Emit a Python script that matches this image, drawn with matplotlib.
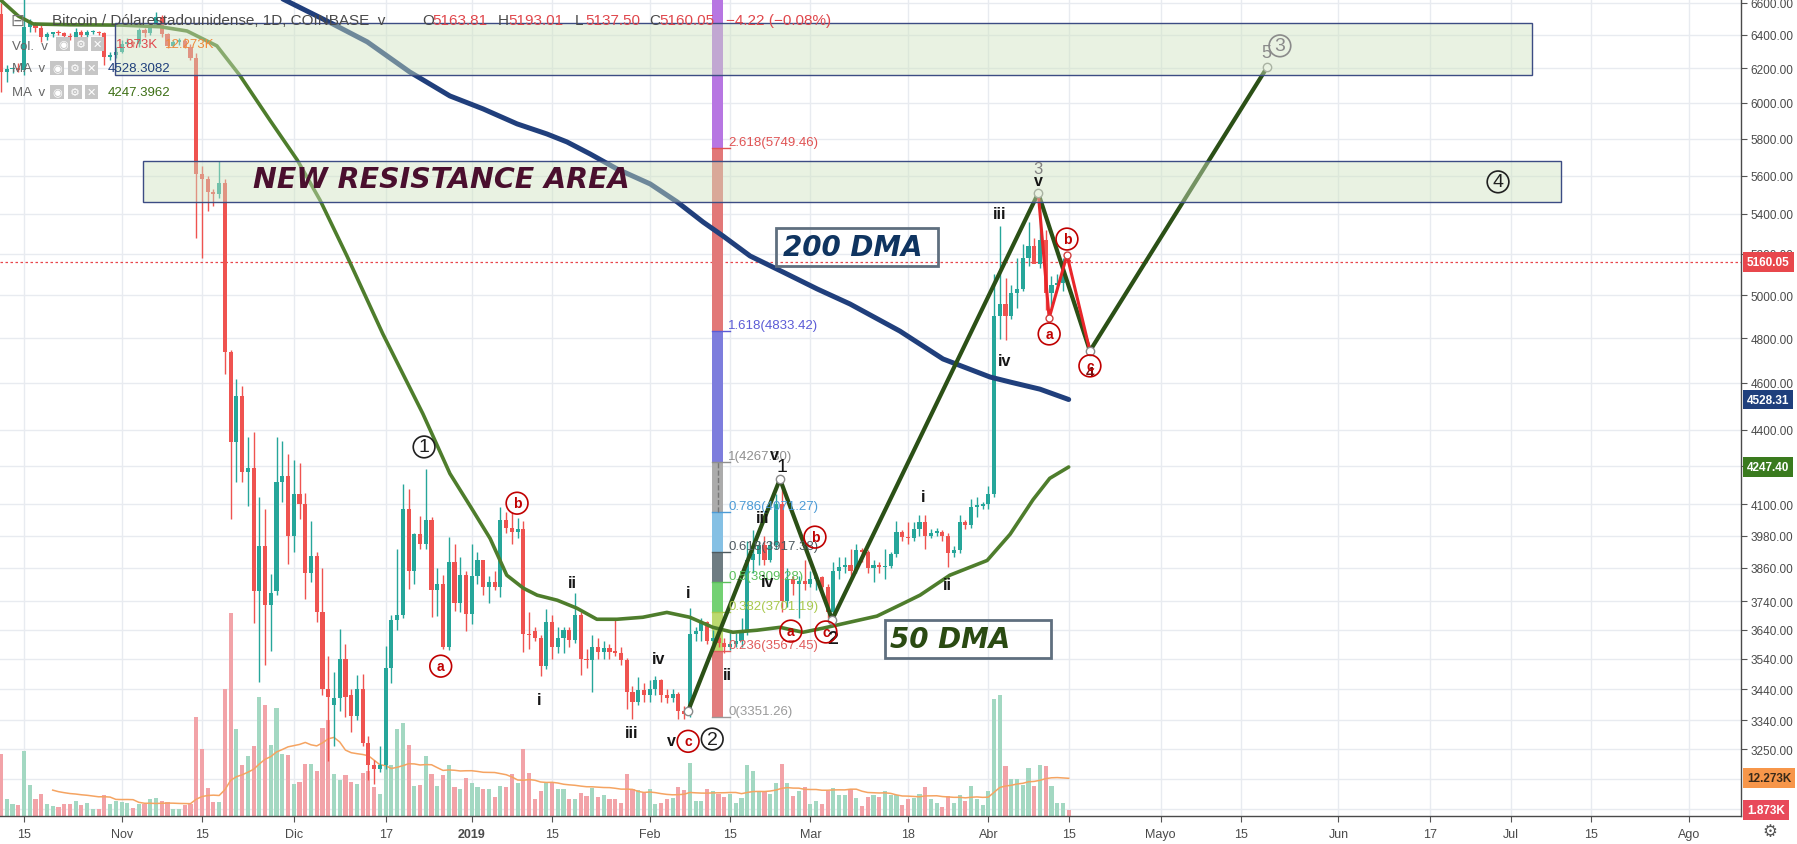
import numpy as np
import pandas as pd
import matplotlib
matplotlib.use('Agg')
import matplotlib.pyplot as plt
import matplotlib.transforms as mtransforms
from matplotlib.patches import Rectangle
from matplotlib.ticker import NullLocator
from matplotlib.colors import to_rgba

plt.rcParams['font.family'] = ['Liberation Sans', 'DejaVu Sans']

# ---- datos: velas diarias BTC/USD (Coinbase) 11 oct 2018 - 15 abr 2019 ----
fechas = pd.date_range('2018-10-11', '2019-04-15', freq='D')

opens = [6530, 6180, 6195, 6205, 6190, 6450, 6470, 6440, 6390, 6405, 6415, 6410, 6395, 6385, 6420, 6400, 6415, 6420, 6410, 6270, 6280,
         6300, 6345, 6360, 6345, 6430, 6412, 6455, 6510, 6405, 6335, 6360, 6365, 6330, 6260, 5610, 5580, 5514, 5505, 5560, 4737,
         4349, 4544, 4226, 4245, 3776, 3940, 3725, 3776, 4186, 4210,
         3980, 4140, 4100, 3840, 3905, 3700, 3440, 3390, 3410, 3540, 3420, 3355, 3440, 3270, 3200, 3190, 3200, 3510, 3675, 3690,
         4080, 3850, 3985, 3950, 4040, 3780, 3800, 3580, 3880, 3733, 3833,
         3694, 3830, 3887, 3790, 3810, 3790, 4038, 4008, 3993, 4005, 3625, 3635, 3610, 3516, 3667, 3580, 3610, 3640, 3605, 3690,
         3540, 3535, 3580, 3565, 3578, 3562, 3560, 3535, 3432, 3398, 3437,
         3420, 3440, 3470, 3420, 3410, 3425, 3370, 3360, 3625, 3635, 3665, 3600, 3610, 3595, 3580, 3590, 3600, 3635, 3887, 3910,
         3945, 3890, 3945, 4100, 3740, 3820, 3800, 3812,
         3800, 3820, 3825, 3790, 3700, 3850, 3862, 3870, 3850, 3925, 3918, 3860, 3872, 3862, 3868, 3910, 3995, 3975, 3970, 4005,
         4030, 3980, 3990, 3995, 3980, 3915, 3925, 4030, 4020, 4090, 4095,
         4100, 4140, 4900, 4960, 4900, 5010, 5030, 5180, 5240, 5150, 5270, 5010, 5050, 5060, 5163.81]
highs = [6600, 6220, 6210, 6230, 6700, 6500, 6480, 6460, 6420, 6420, 6430, 6420, 6410, 6440, 6430, 6430, 6430, 6425, 6420, 6300, 6330,
         6370, 6380, 6365, 6440, 6440, 6470, 6540, 6520, 6410, 6370, 6380, 6380, 6345, 6290, 5650, 5600, 5530, 5680, 5580, 4745,
         4617, 4587, 4370, 4390, 4128, 4081, 3837, 4370, 4352, 4301,
         4275, 4262, 4145, 4035, 3920, 3860, 3550, 3497, 3641, 3590, 3440, 3488, 3490, 3290, 3215, 3260, 3584, 3690, 3930, 4180,
         4158, 3990, 4054, 4240, 4050, 3860, 3835, 3974, 3947, 3900, 3850,
         3947, 3918, 3890, 3830, 3850, 4089, 4070, 4070, 4046, 4035, 3701, 3650, 3620, 3712, 3690, 3650, 3650, 3650, 3768, 3700,
         3575, 3623, 3610, 3600, 3590, 3676, 3580, 3545, 3450, 3480, 3460,
         3470, 3483, 3475, 3440, 3440, 3430, 3385, 3715, 3650, 3680, 3670, 3640, 3640, 3610, 3640, 3630, 3680, 3959, 4000, 3960,
         3980, 3960, 4140, 4199, 3860, 3830, 3830, 3890,
         3850, 3840, 3830, 3800, 3880, 3900, 3900, 3930, 3950, 3935, 3925, 3890, 3880, 3930, 3920, 4035, 4000, 4030, 4030, 4060,
         4060, 4005, 4010, 4000, 3990, 3940, 4060, 4040, 4120, 4130, 4110,
         4170, 5100, 5340, 5080, 5050, 5180, 5250, 5359, 5280, 5508, 5320, 5090, 5100, 5180, 5193.01]
lows = [6060, 6120, 6175, 6180, 6160, 6420, 6420, 6360, 6370, 6390, 6400, 6380, 6370, 6380, 6390, 6390, 6405, 6400, 6220, 6250, 6260,
        6290, 6340, 6330, 6330, 6390, 6400, 6450, 6390, 6320, 6330, 6340, 6320, 6250, 5280, 5180, 5415, 5440, 5480, 4640, 4044,
        4189, 4189, 4093, 3663, 3464, 3520, 3567, 3760, 4110, 3874,
        3918, 4043, 3748, 3810, 3667, 3420, 3213, 3260, 3370, 3350, 3302, 3340, 3260, 3155, 3145, 3180, 3190, 3460, 3640, 3680,
        3782, 3800, 3930, 3930, 3684, 3687, 3573, 3570, 3705, 3700, 3635,
        3660, 3800, 3760, 3734, 3780, 3755, 3990, 3947, 3970, 3564, 3573, 3600, 3483, 3505, 3540, 3560, 3560, 3580, 3595, 3485,
        3510, 3430, 3540, 3540, 3540, 3550, 3520, 3375, 3344, 3390, 3400,
        3400, 3420, 3400, 3395, 3400, 3345, 3345, 3350, 3600, 3600, 3590, 3570, 3580, 3560, 3570, 3580, 3580, 3620, 3840, 3870,
        3870, 3880, 3930, 3700, 3720, 3760, 3680, 3780,
        3790, 3780, 3770, 3680, 3690, 3820, 3840, 3820, 3840, 3880, 3840, 3810, 3840, 3820, 3860, 3900, 3960, 3950, 3960, 3980,
        3930, 3970, 3980, 3960, 3863, 3900, 3915, 4005, 4010, 4050, 4080,
        4080, 4130, 4796, 4790, 4890, 4940, 5020, 5140, 5160, 5130, 4930, 4940, 5030, 5020, 5137.50]
closes = [6180, 6195, 6205, 6190, 6450, 6470, 6440, 6390, 6405, 6415, 6410, 6395, 6385, 6420, 6400, 6415, 6420, 6410, 6270, 6280, 6300,
          6345, 6360, 6345, 6430, 6412, 6455, 6510, 6405, 6335, 6360, 6365, 6330, 6260, 5610, 5580, 5514, 5505, 5560, 4737, 4349,
          4544, 4226, 4245, 3776, 3940, 3725, 3770, 4186, 4210, 3980,
          4140, 4100, 3840, 3905, 3700, 3440, 3415, 3410, 3540, 3415, 3355, 3440, 3270, 3200, 3190, 3200, 3510, 3675, 3690, 4080,
          3850, 3985, 3950, 4040, 3780, 3800, 3580, 3880, 3733, 3833, 3694,
          3830, 3887, 3790, 3810, 3790, 4038, 4008, 3993, 4005, 3625, 3620, 3610, 3516, 3667, 3580, 3610, 3640, 3605, 3690, 3540,
          3535, 3580, 3565, 3578, 3562, 3560, 3535, 3432, 3398, 3437, 3420,
          3440, 3470, 3420, 3410, 3425, 3370, 3360, 3625, 3635, 3665, 3600, 3610, 3595, 3580, 3590, 3600, 3635, 3887, 3910, 3945,
          3890, 3945, 4100, 3740, 3820, 3800, 3812, 3800,
          3820, 3825, 3790, 3700, 3850, 3862, 3870, 3850, 3925, 3918, 3860, 3872, 3862, 3868, 3910, 3995, 3975, 3970, 4005, 4030,
          3980, 3990, 3995, 3980, 3915, 3925, 4030, 4020, 4090, 4095, 4100,
          4140, 4900, 4960, 4900, 5010, 5030, 5180, 5240, 5150, 5270, 5010, 5050, 5060, 5163, 5160.05]
volumen = [20, 5.5, 3.9, 3.5, 21, 10, 5.5, 7, 3.9, 3.2, 2.9, 3.9, 3.9, 5, 3.5, 4.2, 2.3, 2.3, 6.7, 3.9, 5.0,
           4.5, 4.2, 2.5, 3.9, 3.9, 5.5, 5.7, 5, 4.5, 2.3, 2.3, 3.5, 3.9, 32, 21.6, 9, 4.6, 4.5, 41, 65.5,
           28, 16.5, 19.3, 22.6, 38.4, 35.8, 23, 35, 20, 19.7,
           10.3, 11, 16.8, 16.8, 14.5, 28.4, 31, 13.5, 11.6, 13.2, 11, 10.3, 13.9, 14.5, 9.4, 7.1, 16.8, 16.5, 28, 30,
           23, 9.7, 10, 19.3, 13.5, 9.7, 13.2, 16.5, 9.5, 8.6, 12.4,
           10.5, 9.5, 8.8, 8.8, 6.2, 9.7, 9.5, 13.4, 10.5, 21.5, 14, 5.6, 8, 10.7, 10.5, 8.6, 8.6, 5.6, 5.6, 7.3,
           6.4, 9.1, 6.2, 6.7, 5.6, 5.4, 4.1, 13.4, 8.8, 8.4, 7.3,
           8.6, 3.8, 4.3, 5.6, 5.9, 9.5, 8.4, 17.2, 4.8, 4.8, 8.6, 8, 7, 6.2, 7, 4.1, 5.9, 16.3, 14.5, 8,
           8, 7, 10.5, 16.7, 10.7, 6.4, 8, 9.5,
           3.8, 4.8, 3.8, 8, 9.1, 6.7, 6.7, 8.6, 5.9, 3.2, 6.2, 6.7, 6.2, 8, 6.9, 6.9, 3.7, 5.6, 5.9, 7.2,
           9.4, 5.4, 4.3, 2.9, 6.5, 4.3, 6.9, 5, 9.7, 5.4, 3.4,
           8, 37.8, 38.9, 16.1, 11.8, 12, 10.1, 15.6, 9.7, 16.6, 16.1, 9.7, 4.3, 4.3, 1.873]

# medias moviles (dias desde 15 oct 2018)
ma200_dias = [44, 45.1, 53.8, 59.8, 67.2, 74.2, 80, 85.9, 91.1, 94.6, 98.6, 103.3, 109.1, 113.8, 118.3, 121.8,
              126.5, 132.2, 138.2, 143.9, 152.6, 160.1, 168.3, 171.8, 177, 182]
ma200 = [6680, 6622, 6467, 6358, 6179, 6040, 5966, 5882, 5826, 5782, 5717, 5636, 5556, 5462, 5359, 5288,
         5189, 5111, 5029, 4958, 4832, 4706, 4626, 4604, 4573, 4528.31]
ma50_dias = [-4.2, -1, 1.6, 8, 17, 23.7, 28.4, 33.6, 37.6, 42.9, 47.6, 51.6, 56.3, 62.5, 69.5, 74.2, 77.7, 81.2, 84.1,
             87, 89.4, 92.9, 96.3, 99.8, 103.3, 107.8, 112, 116, 120, 123.5, 127.7, 131.7, 135.7, 139.2, 143.9, 148.6,
             152.6, 156.1, 161.3, 164.8, 167.8, 171.8, 175.8, 178.7, 182]
ma50 = [6620, 6516, 6467, 6462, 6460, 6450, 6424, 6334, 6159, 5900, 5684, 5470, 5187, 4820, 4467, 4221, 4094, 3969, 3833,
        3786, 3761, 3743, 3715, 3676, 3676, 3683, 3700, 3683, 3648, 3631, 3638, 3648, 3631, 3645, 3666, 3687,
        3726, 3761, 3833, 3862, 3887, 3985, 4118, 4202, 4247.40]

# fibonacci
fib_ratios = [0, 0.236, 0.382, 0.5, 0.618, 0.786, 1, 1.618, 2.618, 3.618]
fib_precios = [3351.26, 3567.45, 3701.19, 3809.28, 3917.38, 4071.27, 4267.30, 4833.42, 5749.46, 6665.5]

# ondas de elliott
onda_dias = [115.7, 131.7, 140.8, 176.7, 185.7, 216.6]
onda_precios = [3370, 4199, 3675, 5508, 4742, 6208]
abc_dias = [176.7, 178.6, 181.7, 185.7]
abc_precios = [5508, 4892, 5194, 4742]

precio_ticks = [6600, 6400, 6200, 6000, 5800, 5600, 5400, 5200, 5000, 4800, 4600, 4400, 4250, 4100,
                3980, 3860, 3740, 3640, 3540, 3440, 3340, 3250]
fecha_ticks = ['2018-10-15', '2018-11-01', '2018-11-15', '2018-12-01', '2018-12-17', '2019-01-01', '2019-01-15',
               '2019-02-01', '2019-02-15', '2019-03-01', '2019-03-18', '2019-04-01', '2019-04-15', '2019-05-01',
               '2019-05-15', '2019-06-01', '2019-06-17', '2019-07-01', '2019-07-15', '2019-08-01']
fecha_labels = ['15', 'Nov', '15', 'Dic', '17', '2019', '15', 'Feb', '15', 'Mar', '18', 'Abr', '15', 'Mayo',
                '15', 'Jun', '17', 'Jul', '15', 'Ago']

# ---- figura ----
W, H = 1797, 845
base = pd.Timestamp('2018-10-15')
dias = np.array((fechas - base).days, dtype=float)
tick_dias = np.array((pd.to_datetime(fecha_ticks) - base).days, dtype=float)
o, h, l, c = map(np.array, (opens, highs, lows, closes))
vol = np.array(volumen)

fig = plt.figure(figsize=(W / 100, H / 100), dpi=100)
fig.patch.set_facecolor('white')
rect = [0, 28 / H, 1741 / W, 817 / H]
axg = fig.add_axes(rect)
axv = fig.add_axes(rect, sharex=axg)
ax = fig.add_axes(rect, sharex=axg)
axg.set_zorder(0)
axv.set_zorder(1)
ax.set_zorder(2)
axv.patch.set_visible(False)
ax.patch.set_visible(False)

px_dia = 5.74
xmin, xmax = -24 / px_dia, (1741 - 24) / px_dia
ymin, ymax = 3050, 6622
for a in (axg, ax):
    a.set_yscale('log')
    a.set_ylim(ymin, ymax)
ax.set_xlim(xmin, xmax)

# cuadricula
for t in precio_ticks + [3160, 3070]:
    axg.axhline(t, color='#e8ebf0', lw=1)
for t in tick_dias:
    axg.axvline(t, color='#e8ebf0', lw=1)
for a in (axg, axv):
    a.tick_params(left=False, bottom=False, labelleft=False, labelbottom=False, right=False, labelright=False)
    for s in a.spines.values():
        s.set_visible(False)
axg.yaxis.set_minor_locator(NullLocator())

# volumen
sube = c >= o
vcols = np.where(sube, '#a3d8c2', '#f2a3a8')
axv.bar(dias, vol, width=0.72, color=vcols, linewidth=0)
vol_ma = pd.Series(vol).rolling(20, min_periods=10).mean()
axv.plot(dias, vol_ma, color='#f5a462', lw=1.1)
axv.set_ylim(0, 817 / 3.1)

# velas
cols = np.where(sube, '#26a69a', '#ef5350')
ax.vlines(dias, l, h, colors=cols, lw=1, zorder=3)
cuerpo_bajo = np.minimum(o, c)
cuerpo_alto = np.maximum(np.abs(c - o), c * 0.0015)
ax.bar(dias, cuerpo_alto, bottom=cuerpo_bajo, width=0.72, color=cols, linewidth=0, zorder=3.5)

# medias
ax.plot(ma200_dias, ma200, color='#203f7c', lw=3.6, zorder=4, solid_capstyle='round')
ax.plot(ma50_dias, ma50, color='#4e7d2c', lw=2.6, zorder=4, solid_capstyle='round')

# linea del ultimo precio
ax.axhline(closes[-1], color='#e8474c', lw=0.9, ls=(0, (2, 2)), zorder=2)

# columna fibonacci
fx0, fx1 = (712 - 24) / px_dia, (723 - 24) / px_dia
banda_cols = ['#e27d7d', '#bcd96f', '#73d173', '#6e7c82', '#85c0e4', '#ababab', '#7d7ddd', '#e27878', '#b776e2']
fib_txt_cols = ['#9a9a9a', '#e05c5c', '#a9c94e', '#5cbf5c', '#4e5a60', '#4c9bd6', '#8f8f8f', '#5b5bd6', '#e05252']
for i in range(len(fib_precios) - 1):
    ax.fill_between([fx0, fx1], fib_precios[i], fib_precios[i + 1], color=banda_cols[i], lw=0, zorder=2.6)
for i in range(len(fib_precios) - 1):
    ax.text((728 - 24) / px_dia, fib_precios[i], '%g(%.2f)' % (fib_ratios[i], fib_precios[i]),
            color=fib_txt_cols[i], fontsize=9.5, ha='left', va='bottom', zorder=6)
    ax.plot([fx0, fx1 + 1.2], [fib_precios[i]] * 2, color=fib_txt_cols[i], lw=1, zorder=2.7)
ax.vlines((fx0 + fx1) / 2, fib_precios[5], fib_precios[6], colors='#777777', linestyles='--', lw=1, zorder=2.8)

# ondas
ax.plot(onda_dias, onda_precios, color='#2b5016', lw=3, zorder=5, solid_capstyle='round')
ax.plot(abc_dias, abc_precios, color='#e8262a', lw=2.2, zorder=5.2)
ax.plot(onda_dias, onda_precios, 'o', ms=6, mfc='white', mec='#8a8a8a', mew=1, zorder=5.5)
ax.plot(abc_dias[1:3], abc_precios[1:3], 'o', ms=5, mfc='white', mec='#d04040', mew=1, zorder=5.5)

# cajas de resistencia
caja_fc = to_rgba('#cfe3c0', 0.45)
ax.add_patch(Rectangle((15.85, 6161), 262.7 - 15.85, 6473 - 6161, fc=caja_fc, ec='#3c4c84', lw=1, zorder=6))
ax.add_patch(Rectangle((20.7, 5462), 267.8 - 20.7, 5678 - 5462, fc=caja_fc, ec='#3c4c84', lw=1, zorder=6))
ax.text(39.9, 5583, 'NEW RESISTANCE AREA', family='DejaVu Sans', fontsize=20.5, fontweight='bold',
        style='italic', color='#4a0f2e', ha='left', va='center', zorder=7)

# cajas DMA
ax.add_patch(Rectangle((131, 5141), 159.2 - 131, 5329 - 5141, fc='none', ec='#5f6f7f', lw=2, zorder=7))
ax.text(132.2, 5233, '200 DMA', family='DejaVu Sans', fontsize=20, fontweight='bold', style='italic',
        color='#0f3460', ha='left', va='center', zorder=7)
ax.add_patch(Rectangle((150, 3543), 178.9 - 150, 3674 - 3543, fc='none', ec='#5f6f7f', lw=2, zorder=7))
ax.text(150.9, 3608, '50 DMA', family='DejaVu Sans', fontsize=20, fontweight='bold', style='italic',
        color='#2a4a12', ha='left', va='center', zorder=7)

# etiquetas de onda
romanos = [('i', 89.7, 3408), ('ii', 95.6, 3808), ('iii', 105.9, 3302), ('iv', 110.6, 3543), ('v', 112.7, 3275),
           ('i', 115.7, 3772), ('ii', 122.6, 3487), ('iii', 128.7, 4047), ('iv', 129.6, 3810), ('v', 130.8, 4300),
           ('i', 156.6, 4132), ('ii', 160.8, 3801), ('iii', 169.9, 5405), ('iv', 170.9, 4697), ('v', 176.7, 5572)]
for s, x, y in romanos:
    ax.text(x, y, s, fontsize=11.5, fontweight='bold', color='#151515', ha='center', va='center', zorder=8)
ax.text(132.1, 4250, '1', fontsize=14, color='#151515', ha='center', va='center', zorder=8)
ax.text(140.9, 3608, '2', fontsize=14, fontweight='bold', color='#151515', ha='center', va='center', zorder=8)
ax.text(176.7, 5640, '3', fontsize=12, color='#808080', ha='center', va='center', zorder=8)
ax.text(185.7, 4650, '4', fontsize=11, fontweight='bold', color='#7a1010', ha='center', va='center', zorder=8)
ax.text(216.5, 6297, '5', fontsize=13, color='#8a8a8a', ha='center', va='center', zorder=8)

rojos = [('a', 72.6, 3516), ('b', 85.9, 4104), ('c', 115.7, 3274), ('a', 133.6, 3635), ('b', 137.8, 3974),
         ('c', 139.7, 3632), ('a', 178.6, 4819), ('b', 181.7, 5273), ('c', 185.7, 4675)]
for s, x, y in rojos:
    ax.text(x, y, s, fontsize=10, fontweight='bold', color='#c00000', ha='center', va='center', zorder=8,
            bbox=dict(boxstyle='circle,pad=0.28', fc='none', ec='#c00000', lw=1.2))

circulos = [('1', 69.7, 4329, '#202020'), ('2', 119.9, 3281, '#202020'), ('3', 218.8, 6334, '#8a8a8a'),
            ('4', 256.8, 5567, '#202020')]
for s, x, y, col in circulos:
    ax.text(x, y, s, fontsize=14, color=col, ha='center', va='center', zorder=8,
            bbox=dict(boxstyle='circle,pad=0.12', fc='none', ec=col, lw=1.2))

# ejes
ax.yaxis.tick_right()
ax.set_yticks(precio_ticks)
ax.set_yticklabels(['%.2f' % t for t in precio_ticks])
ax.yaxis.set_minor_locator(NullLocator())
ax.set_xticks(tick_dias)
ax.set_xticklabels(fecha_labels)
ax.get_xticklabels()[5].set_fontweight('bold')
ax.tick_params(axis='y', direction='out', length=4, color='#555555', labelsize=8.5, labelcolor='#4a4a4a', pad=3)
ax.tick_params(axis='x', direction='out', length=4, color='#555555', labelsize=9, labelcolor='#4a4a4a', pad=5)
for s in ('top', 'left'):
    ax.spines[s].set_visible(False)
for s in ('right', 'bottom'):
    ax.spines[s].set_color('#4a4a4a')
    ax.spines[s].set_linewidth(1)

# etiquetas de precio resaltadas
tp = mtransforms.blended_transform_factory(ax.transAxes, ax.transData)
tv = mtransforms.blended_transform_factory(axv.transAxes, axv.transData)
dx = 1 + 6 / 1741
for val, txt, fc, tc, tr in [(5160.05, '5160.05', '#e8474c', 'white', tp), (4528.31, '4528.31', '#1f3f7c', 'white', tp),
                             (4247.40, '4247.40', '#3a7a1e', 'white', tp), (12.273, '12.273K', '#f7964a', '#3a2a1a', tv),
                             (1.873, '1.873K', '#e84a5a', 'white', tv)]:
    a = ax if tr is tp else axv
    a.text(dx, val, txt, transform=tr, fontsize=8.5, fontweight='bold', color=tc, ha='left', va='center',
           clip_on=False, zorder=20, bbox=dict(boxstyle='square,pad=0.32', fc=fc, ec='none'))


# leyenda superior
def texto(x, y, s, **kw):
    fig.text(x / W, 1 - y / H, s, va='center', **kw)


texto(10, 21, '⊟', fontsize=12, color='#777777')
texto(52, 21, 'Bitcoin / Dólarestadounidense, 1D, COINBASE  v', fontsize=11, color='#4a4a4a')
for x, let, val in [(422, 'O', '5163.81'), (498, 'H', '5193.01'), (575, 'L', '5137.50'), (649, 'C', '5160.05')]:
    texto(x, 21, let, fontsize=11, color='#4a4a4a')
    texto(x + 10, 21, val, fontsize=11, color='#e0474c')
texto(726, 21, '−4.22 (−0.08%)', fontsize=11, color='#e0474c')

texto(12, 47, 'Vol.  v', fontsize=9.5, color='#666666')
texto(12, 69, 'MA  v', fontsize=9.5, color='#666666')
texto(12, 93, 'MA  v', fontsize=9.5, color='#666666')
for y, x0 in [(45, 58), (69, 52), (93, 52)]:
    for k, sym in enumerate(['◉', '⚙', '✕']):
        texto(x0 + k * 17.5, y, sym, fontsize=8, color='white', family='DejaVu Sans',
              bbox=dict(boxstyle='square,pad=0.18', fc='#c6c6c6', ec='none'))
texto(116, 45, '1.873K', fontsize=9.5, color='#e0474c')
texto(165, 45, '12.273K', fontsize=9.5, color='#f08a3c')
texto(108, 69, '4528.3082', fontsize=9.5, color='#1f3f7c')
texto(108, 93, '4247.3962', fontsize=9.5, color='#3c6e14')
texto(1762, 832, '⚙', fontsize=12, color='#555555', family='DejaVu Sans')

fig.savefig('out.png', dpi=100, facecolor='white')
